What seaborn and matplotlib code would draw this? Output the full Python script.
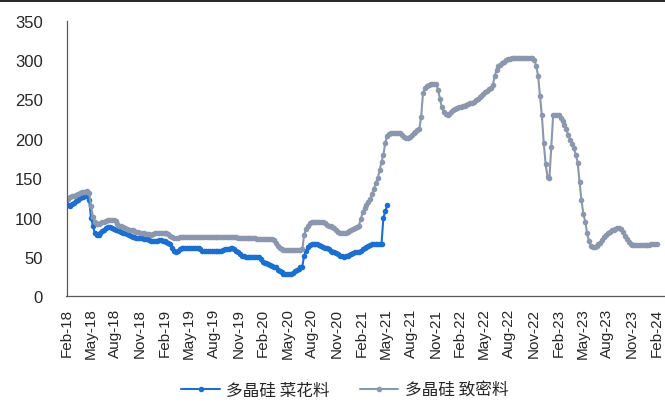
import matplotlib
matplotlib.use('Agg')
import matplotlib.pyplot as plt
import matplotlib.dates as mdates
from matplotlib.lines import Line2D
import seaborn as sns
import pandas as pd

# weekly prices, yuan/kg, first week = 2018-02-01
start_date = '2018-02-01'

dense_label = '多晶硅 致密料'
dense_vals = [
    122, 124, 126, 127, 128, 129, 130, 131, 132, 132, 133, 134,
    131, 115, 101, 95, 92.5, 92, 93, 94,
    95, 96, 97, 97, 97, 97, 96, 92, 90, 89,
    88, 87, 86, 85, 84.5, 84, 83, 82, 81.5, 81,
    80.5, 80, 79.5, 79, 79, 78.5, 79, 80, 81, 81,
    81, 81, 80.5, 80, 79, 77, 75, 74, 74, 74.5,
    75, 75, 75, 75, 75, 75, 75, 75, 75, 75,
    75, 76, 76, 76, 76, 76, 76, 76, 76, 76,
    76, 75, 75, 75, 75, 75, 75, 75, 75, 75,
    75, 74, 74, 74, 74, 74, 74, 74, 74, 74,
    74, 73.5, 73.5, 73.5, 73.5, 73.5, 73.5, 73.5, 73.5, 73.5,
    72, 68, 64, 61, 60, 59, 59, 59, 59, 59,
    59, 59, 59, 59, 59, 60, 78, 86, 90, 93,
    95, 95, 95, 95, 95, 95, 94, 93, 91, 90,
    89, 88, 87, 85, 82, 81, 80, 80.5, 81, 82,
    83, 84, 86, 87, 88, 90, 98, 107, 112, 116,
    120, 124, 130, 137, 144, 150, 160, 171, 180, 195,
    204, 206, 207, 207, 207, 207, 207, 207, 205, 203,
    201, 201, 203, 205, 207, 209, 211, 212, 228, 258,
    264, 267, 269, 270, 270, 270, 270, 262, 251, 240,
    234, 231, 230, 232, 234, 237, 238, 239, 240, 241,
    242, 242, 243, 244, 245, 246, 247, 249, 251, 253,
    255, 257, 259, 261, 263, 265, 268, 280, 287, 292,
    294, 296, 298, 300, 301, 302, 303, 303, 303, 303,
    303, 303, 303, 303, 303, 303, 303, 303, 300, 293,
    280, 255, 230, 195, 168, 152, 150, 190, 230, 230,
    230, 230, 227, 223, 218, 212, 205, 199, 194, 188,
    180, 170, 145, 122, 105, 95, 80, 70, 64, 63,
    63, 64, 66, 68, 72, 75, 78, 80, 82, 84,
    85, 86, 87, 87, 86, 82, 77, 73, 69, 67,
    65, 65, 65, 65, 65, 65, 65, 65, 65, 65,
    66, 67, 67, 67,
]

flower_label = '多晶硅 菜花料'
flower_vals = [
    119, 116, 115, 117, 119, 121, 123, 125, 126, 126, 127, 127,
    122, 100, 90, 80, 78, 78, 80, 83,
    85, 87, 88, 88, 87, 86, 85, 84, 83, 82,
    81, 80, 79, 78, 77, 76, 75, 74, 74, 74,
    74, 73, 73, 73, 72, 71, 70, 70, 71, 72,
    72, 71, 70, 69, 68, 66, 62, 58, 57, 58,
    60, 61, 61, 61, 61, 61, 61, 61, 61, 61,
    61, 60, 58, 57.5, 57.5, 57.5, 57.5, 57.5, 57.5, 57.5,
    57.5, 57.5, 58, 59, 60, 60, 60, 61, 61, 60,
    58, 56, 54, 52, 51, 50.5, 50, 50, 50, 50,
    50, 50, 50, 47, 44, 43, 42, 41, 40, 39,
    38, 37, 34, 32, 31, 29, 28, 28, 28, 28.5,
    30, 32, 33, 35, 37, 38, 52, 58, 63, 65,
    66, 67, 67, 66, 65, 64, 63, 62, 61, 60,
    58, 57, 56, 55, 54, 52, 51, 50.5, 51, 52,
    53, 54, 55, 56, 57, 57, 58, 60, 62, 63,
    64, 65, 66, 66, 66.5, 67, 67, 67, 100, 108,
    116,
]

y_ticks = [0, 50, 100, 150, 200, 250, 300, 350]

flower_color = '#1c6fcf'
dense_color = '#8a97ad'

df_dense = pd.DataFrame({
    'date': pd.date_range(start_date, periods=len(dense_vals), freq='7D'),
    'price': dense_vals,
})
df_flower = pd.DataFrame({
    'date': pd.date_range(start_date, periods=len(flower_vals), freq='7D'),
    'price': flower_vals,
})

sns.set_style('white')
plt.rcParams['font.family'] = ['Liberation Sans', 'Noto Sans CJK SC']

fig = plt.figure(figsize=(6.65, 4.10), dpi=100)
ax = fig.add_axes([0.1, 0.2744, 0.9, 0.6727])

sns.lineplot(data=df_flower, x='date', y='price', ax=ax, color=flower_color,
             linewidth=1.5, marker='o', markersize=4, markeredgewidth=0,
             label=flower_label)
sns.lineplot(data=df_dense, x='date', y='price', ax=ax, color=dense_color,
             linewidth=1.5, marker='o', markersize=4, markeredgewidth=0,
             label=dense_label)

ax.set_ylim(0, 350)
ax.set_yticks(y_ticks)
ax.set_xlim(pd.Timestamp(start_date), pd.Timestamp(start_date) + pd.Timedelta(days=2221))
ax.xaxis.set_major_locator(mdates.MonthLocator(bymonth=[2, 5, 8, 11]))
ax.xaxis.set_major_formatter(mdates.DateFormatter('%b-%y'))
ax.set_xlabel('')
ax.set_ylabel('')

for side in ['top', 'right']:
    ax.spines[side].set_visible(False)
for side in ['left', 'bottom']:
    ax.spines[side].set_color('#595959')
    ax.spines[side].set_linewidth(0.9)

ax.tick_params(axis='y', direction='in', length=4, width=0.8, color='#595959',
               labelsize=12, labelcolor='#262626', pad=17)
ax.tick_params(axis='x', direction='in', length=4, width=0.8, color='#595959',
               labelsize=11, labelcolor='#262626', pad=8, labelrotation=90)

leg = ax.get_legend()
if leg is not None:
    leg.remove()
handles, labels = ax.get_legend_handles_labels()
fig.legend(handles, labels, loc='center', bbox_to_anchor=(345 / 665, 1 - 391 / 410),
           ncol=2, frameon=False, handlelength=2.3, columnspacing=1.8,
           handletextpad=0.4, prop={'family': ['Noto Sans CJK SC'], 'size': 12})

# thin rule along the top edge
fig.add_artist(Line2D([0, 1], [1 - 2 / 410, 1 - 2 / 410], color='black', linewidth=1.2))

plt.savefig('out.png', dpi=100)
